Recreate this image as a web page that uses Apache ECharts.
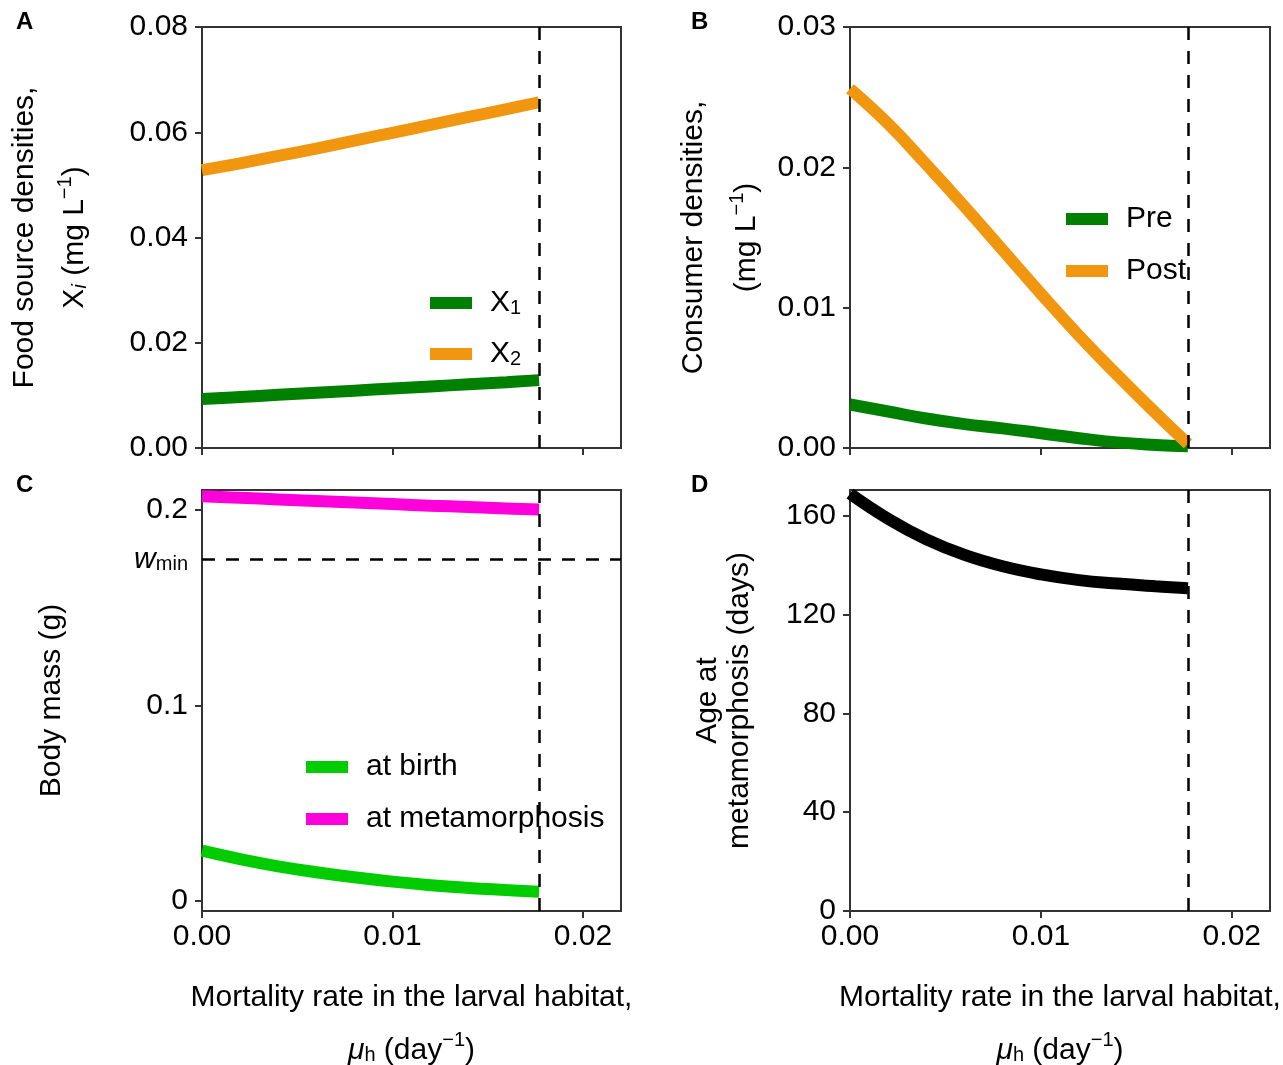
<!DOCTYPE html>
<html>
<head>
<meta charset="utf-8">
<script src="https://cdn.jsdelivr.net/npm/echarts@6/dist/echarts.min.js"></script>
<style>
html,body{margin:0;padding:0;background:#fff;}
#chart{width:1283px;height:1065px;}
</style>
</head>
<body>
<div id="chart"></div>
<script>
// ---- data ----
const MU = [0, 0.002, 0.004, 0.006, 0.008, 0.010, 0.012, 0.014, 0.016, 0.0177];
const X1 = [0.0093, 0.0097, 0.0101, 0.0105, 0.0109, 0.0113, 0.0117, 0.0121, 0.0125, 0.0129];
const X2 = [0.0528, 0.0541, 0.0555, 0.0569, 0.0584, 0.0599, 0.0614, 0.0629, 0.0644, 0.0657];
const PRE = [0.0031, 0.0026, 0.0021, 0.0017, 0.0014, 0.00105, 0.0007, 0.0004, 0.00022, 0.00012];
const POST = [0.0256, 0.0231, 0.0202, 0.0172, 0.0141, 0.0110, 0.0080, 0.0052, 0.0025, 0.0003];
const BIRTH = [0.0258, 0.0215, 0.0178, 0.0148, 0.0122, 0.0100, 0.0082, 0.0068, 0.0057, 0.0048];
const META = [0.2068, 0.2060, 0.2052, 0.2044, 0.2036, 0.2028, 0.2020, 0.2013, 0.2006, 0.2000];
const AGE = [169, 158.8, 150.5, 144.2, 139.6, 136.3, 134.0, 132.6, 131.5, 130.7];
const MU_STAR = 0.0177;
const W_MIN = 0.1745;
const X_TICKS = [0, 0.01, 0.02];
const A_TICKS = [0, 0.02, 0.04, 0.06, 0.08];
const B_TICKS = [0, 0.01, 0.02, 0.03];
const C_TICKS = [0, 0.1, 0.2];
const C_LABELS = [0, 0.1, W_MIN, 0.2];
const D_TICKS = [0, 40, 80, 120, 160];

const FONT = "'Liberation Sans', Arial, Helvetica, sans-serif";
const AX = '#333333';
const GREEN = '#008000', ORANGE = '#F0970F', LIME = '#00CC00', MAGENTA = '#FF00DC';

function pairs(ys){ return MU.map((m,i)=>[m, ys[i]]); }

const grids = [
  {left:202, top:27, width:419, height:421},
  {left:850, top:27, width:420, height:421},
  {left:202, top:490, width:419, height:421},
  {left:850, top:490, width:420, height:421}
].map(g => Object.assign({show:true, borderColor:AX, borderWidth:2, backgroundColor:'#fff',
  containLabel:false, outerBoundsMode:'none'}, g));

const TS = 30;
const tick = {show:true, inside:false, length:7, lineStyle:{color:AX, width:2}};
const line = {show:true, onZero:false, lineStyle:{color:AX, width:2}};

// sub/superscript styles: shift via asymmetric padding (middle-aligned tokens)
const SUB = {fontFamily:FONT, fontSize:20, padding:[10,0,0,0], lineHeight:20, color:'#000'};
const SUBI = Object.assign({}, SUB, {fontStyle:'italic'});
const SUP = {fontFamily:FONT, fontSize:20, padding:[0,0,20,0], lineHeight:20, color:'#000'};

function xAxis(i, labels, withName){
  const ax = {
    type:'value', gridIndex:i, min:0, max:0.022,
    axisLine:line,
    axisTick:Object.assign({customValues:X_TICKS}, tick),
    axisLabel:{show:labels, customValues:X_TICKS, margin:11, color:'#000', fontFamily:FONT, fontSize:TS,
      formatter:v=>v.toFixed(2)},
    splitLine:{show:false}
  };
  if (withName) {
    ax.name = 'Mortality rate in the larval habitat,\n{mu|\u03bc}{sub|h} (day{sup|\u22121})';
    ax.nameLocation = 'middle';
    ax.nameGap = 60;
    ax.nameTextStyle = {color:'#000', fontFamily:FONT, fontSize:TS, lineHeight:53,
      rich:{
        mu:{fontFamily:FONT, fontSize:TS, fontStyle:'italic', lineHeight:53, color:'#000'},
        sub:SUB, sup:SUP
      }};
  }
  return ax;
}

function yAxis(i, min, max, ticks, labels, fmt, name, gap, lh){
  return {
    type:'value', gridIndex:i, min:min, max:max,
    axisLine:line,
    axisTick:Object.assign({customValues:ticks}, tick),
    axisLabel:{customValues:labels, margin:14, color:'#000', fontFamily:FONT, fontSize:TS, formatter:fmt,
      rich:{
        w:{fontFamily:FONT, fontSize:TS, fontStyle:'italic', lineHeight:30, color:'#000'},
        s:{fontFamily:FONT, fontSize:20, verticalAlign:'bottom', lineHeight:18, color:'#000'}
      }},
    splitLine:{show:false},
    name:name, nameLocation:'middle', nameRotate:90, nameGap:gap,
    nameTextStyle:{color:'#000', fontFamily:FONT, fontSize:TS, lineHeight:lh, rich:{sup:SUP, xi:SUBI}}
  };
}

const dash = {symbol:'none', silent:true, precision:6, label:{show:false}, emphasis:{disabled:true},
  lineStyle:{type:[13,11], color:'#000', width:2.5}};

function series(name, i, ys, color, extra){
  return Object.assign({
    name:name, type:'line', xAxisIndex:i, yAxisIndex:i, data:pairs(ys),
    showSymbol:false, symbol:'none', smooth:0.45,
    color:color, itemStyle:{color:color},
    lineStyle:{color:color, width:12, cap:'butt'}, z:3
  }, extra||{});
}

function legend(names, left, top, gap){
  return {
    data:names.map(n=>({name:n.name, itemStyle:{color:n.color, borderWidth:0}})),
    orient:'vertical', left:left, top:top, itemGap:gap, itemWidth:42, itemHeight:12,
    icon:'rect', selectedMode:false, padding:0,
    formatter:function(n){
      if (n==='X1') return '{x|X}{s|1}';
      if (n==='X2') return '{x|X}{s|2}';
      return n;
    },
    textStyle:{color:'#000', fontFamily:FONT, fontSize:TS, lineHeight:30, padding:[0,0,0,13],
      rich:{
        x:{fontFamily:FONT, fontSize:TS, lineHeight:30, color:'#000'},
        s:{fontFamily:FONT, fontSize:20, verticalAlign:'bottom', lineHeight:17, color:'#000'}
      }}
  };
}

const option = {
  animation:false,
  backgroundColor:'#fff',
  grid:grids,
  xAxis:[xAxis(0,false,false), xAxis(1,false,false), xAxis(2,true,true), xAxis(3,true,true)],
  yAxis:[
    yAxis(0, 0, 0.08, A_TICKS, A_TICKS, v=>v.toFixed(2),
      'Food source densities,\nX{xi|i} (mg L{sup|\u22121})', 102, 50),
    yAxis(1, 0, 0.03, B_TICKS, B_TICKS, v=>v.toFixed(2),
      'Consumer densities,\n(mg L{sup|\u22121})', 75, 53),
    yAxis(2, -0.005, 0.21, C_TICKS, C_LABELS,
      v=>Math.abs(v-W_MIN)<1e-9 ? '{w|w}{s|min}' : String(Math.round(v*10)/10),
      'Body mass (g)', 125, 50),
    yAxis(3, 0, 170.5, D_TICKS, D_TICKS, v=>String(v),
      'Age at\nmetamorphosis (days)', 94, 32)
  ],
  legend:[
    legend([{name:'X1',color:GREEN},{name:'X2',color:ORANGE}], 430, 288, 21),
    legend([{name:'Pre',color:GREEN},{name:'Post',color:ORANGE}], 1066, 204, 22),
    legend([{name:'at birth',color:LIME},{name:'at metamorphosis',color:MAGENTA}], 306, 752, 22)
  ],
  series:[
    series('X1', 0, X1, GREEN, {markLine:Object.assign({data:[{xAxis:MU_STAR}]}, dash)}),
    series('X2', 0, X2, ORANGE),
    series('Pre', 1, PRE, GREEN, {markLine:Object.assign({data:[{xAxis:MU_STAR}]}, dash)}),
    series('Post', 1, POST, ORANGE),
    series('at birth', 2, BIRTH, LIME, {markLine:Object.assign({data:[{xAxis:MU_STAR},{yAxis:W_MIN}]}, dash)}),
    series('at metamorphosis', 2, META, MAGENTA),
    series('age', 3, AGE, '#000', {markLine:Object.assign({data:[{xAxis:MU_STAR}]}, dash)})
  ],
  graphic:[
    {type:'text', left:16, top:10, style:{text:'A', font:"bold 24px "+FONT, fill:'#000'}},
    {type:'text', left:691, top:10, style:{text:'B', font:"bold 24px "+FONT, fill:'#000'}},
    {type:'text', left:16, top:473, style:{text:'C', font:"bold 24px "+FONT, fill:'#000'}},
    {type:'text', left:691, top:473, style:{text:'D', font:"bold 24px "+FONT, fill:'#000'}}
  ]
};

const chart = echarts.init(document.getElementById('chart'), null, {renderer:'canvas'});
chart.setOption(option);
</script>
</body>
</html>
